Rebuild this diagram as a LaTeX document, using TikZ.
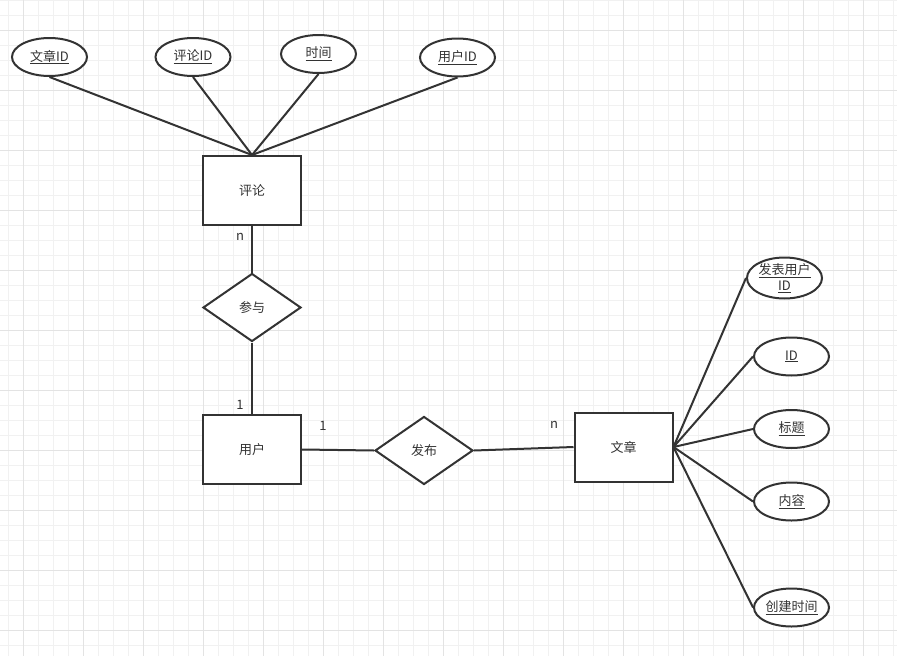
\documentclass[tikz,border=0pt]{standalone}
\usepackage{fontspec}
\setmainfont{Noto Sans CJK SC}
\usetikzlibrary{shapes.geometric}
\definecolor{ink}{HTML}{333333}
\definecolor{gridminor}{HTML}{F1F1F1}
\definecolor{gridmajor}{HTML}{E3E3E3}
\begin{document}
\begin{tikzpicture}[x=1pt,y=-1pt,
  lbl/.style={text=ink, font=\fontsize{13}{15}\selectfont, inner sep=0pt},
  entity/.style={rectangle, draw=ink, line width=2pt, fill=white, minimum width=98pt, minimum height=69pt, inner sep=0pt, text=ink, font=\fontsize{13}{15}\selectfont},
  attr/.style={ellipse, draw=ink, line width=2pt, fill=white, minimum width=75pt, minimum height=38pt, inner sep=0pt, text=ink, align=center, font=\fontsize{13}{16}\selectfont},
  rel/.style={diamond, draw=ink, line width=2pt, fill=white, minimum width=98pt, minimum height=68pt, inner sep=0pt, text=ink, font=\fontsize{13}{15}\selectfont},
  link/.style={draw=ink, line width=2pt}]
\useasboundingbox (0,0) rectangle (897,656);
\fill[white] (0,0) rectangle (897,656);
% grid
\foreach \i in {0,...,59} \draw[gridminor, line width=1pt] ({8.33+15*\i},0) -- ({8.33+15*\i},656);
\foreach \i in {0,...,43} \draw[gridminor, line width=1pt] (0,{15*\i}) -- (897,{15*\i});
\foreach \i in {0,...,14} \draw[gridmajor, line width=1pt] ({23.33+60*\i},0) -- ({23.33+60*\i},656);
\foreach \i in {0,...,10} \draw[gridmajor, line width=1pt] (0,{30+60*\i}) -- (897,{30+60*\i});

% nodes
\node[attr] (wzid) at (49.5,57) {\underline{文章ID}};
\node[attr] (plid) at (193,57) {\underline{评论ID}};
\node[attr] (sj) at (318.5,54) {\underline{时间}};
\node[attr] (yhid) at (457.5,57.5) {\underline{用户ID}};
\node[entity] (pl) at (252,190.5) {评论};
\node[rel] (cy) at (252,307.5) {参与};
\node[entity] (yh) at (252,449.5) {用户};
\node[rel] (fb) at (424,450.5) {发布};
\node[entity] (wz) at (623.5,447) {文章};
\node[attr] (fbid) at (784.5,278) {\underline{发表用户}\\\underline{ID}};
\node[attr] (id) at (791.5,356.5) {\underline{ID}};
\node[attr] (bt) at (791.5,429) {\underline{标题}};
\node[attr] (nr) at (791.5,501.5) {\underline{内容}};
\node[attr] (cj) at (791.5,607.5) {\underline{创建时间}};

% connectors
\draw[link] (wzid.south) -- (pl.north);
\draw[link] (plid.south) -- (pl.north);
\draw[link] (sj.south) -- (pl.north);
\draw[link] (yhid.south) -- (pl.north);
\draw[link] (pl.south) -- (cy.north);
\draw[link] (cy.south) -- (yh.north);
\draw[link] (yh.east) -- (fb.west);
\draw[link] (fb.east) -- (wz.west);
\draw[link] (wz.east) -- (fbid.west);
\draw[link] (wz.east) -- (id.west);
\draw[link] (wz.east) -- (bt.west);
\draw[link] (wz.east) -- (nr.west);
\draw[link] (wz.east) -- (cj.west);

% cardinality labels
\node[lbl] (l1) at (240,237) {n};
\node[lbl] (l2) at (240,405) {1};
\node[lbl] (l3) at (323,426) {1};
\node[lbl] (l4) at (554,425) {n};
\end{tikzpicture}
\end{document}
